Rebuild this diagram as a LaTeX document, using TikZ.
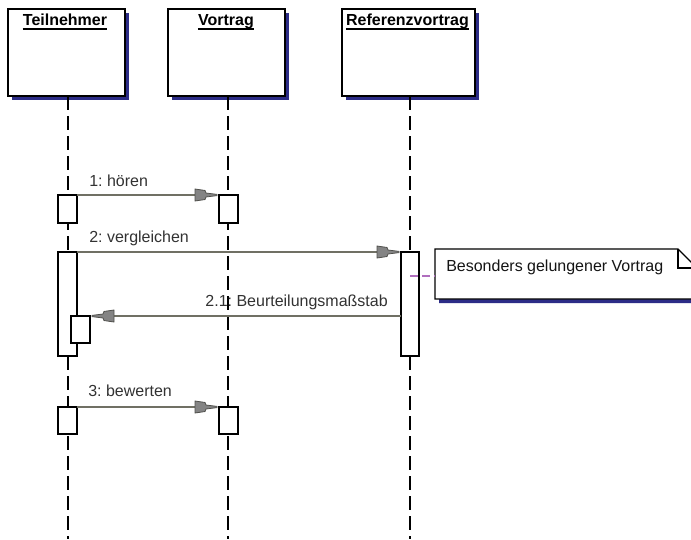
\documentclass[tikz,border=0pt]{standalone}
\usepackage{fontspec}
\setmainfont{Liberation Sans}
\usetikzlibrary{shadows}
\frenchspacing
\definecolor{msgline}{RGB}{112,112,100}
\definecolor{arrfill}{RGB}{132,132,132}
\definecolor{arrdraw}{RGB}{80,80,76}
\definecolor{labeltext}{RGB}{50,50,50}
\definecolor{shadowblue}{RGB}{45,45,135}
\definecolor{notelinkcol}{RGB}{176,110,190}
\pgfdeclarearrow{
  name=rosetip,
  setup code={
    \pgfarrowssettipend{0pt}
    \pgfarrowssetlineend{-9pt}
    \pgfarrowssetbackend{-16.5pt}
    \pgfarrowssetvisualbackend{-16.5pt}
    \pgfarrowshullpoint{0pt}{0pt}
    \pgfarrowshullpoint{-16.5pt}{4.5pt}
    \pgfarrowshullpoint{-16.5pt}{-4.5pt}
  },
  drawing code={
    \pgfsetdash{}{0pt}
    \pgfsetlinewidth{0.6pt}
    \pgfsetmiterjoin
    \pgfsetfillcolor{arrfill}
    \pgfsetstrokecolor{arrdraw}
    \pgfpathmoveto{\pgfpoint{0pt}{0.45pt}}
    \pgfpathlineto{\pgfpoint{-8.25pt}{1.5pt}}
    \pgfpathlineto{\pgfpoint{-9pt}{3.4pt}}
    \pgfpathlineto{\pgfpoint{-16.5pt}{4.5pt}}
    \pgfpathlineto{\pgfpoint{-16.5pt}{-4.5pt}}
    \pgfpathlineto{\pgfpoint{-9pt}{-3.4pt}}
    \pgfpathlineto{\pgfpoint{-8.25pt}{-1.5pt}}
    \pgfpathlineto{\pgfpoint{0pt}{-0.45pt}}
    \pgfpathclose
    \pgfusepathqfillstroke
  }
}
\begin{document}
\begin{tikzpicture}[x=0.75pt,y=-0.75pt,
  objbox/.style={draw=black, line width=1.1pt, fill=white, inner sep=0pt, outer sep=0pt,
    minimum height=65.25pt,
    general shadow={fill=shadowblue, shadow xshift=3pt, shadow yshift=-3pt}},
  actbox/.style={draw=black, line width=1pt, fill=white, inner sep=0pt, outer sep=0pt, minimum width=14.25pt},
  lifeline/.style={draw=black, line width=1.1pt, dash pattern=on 10.5pt off 4.5pt},
  msg/.style={draw=msgline, line width=0.9pt, -rosetip, shorten >=1.5pt},
  msglabel/.style={text=labeltext, anchor=base west, inner sep=0pt, font=\fontsize{12}{14}\selectfont},
  titlelabel/.style={anchor=base, inner sep=0pt, font=\bfseries\fontsize{12}{14}\selectfont},
  noteline/.style={draw=black, line width=0.9pt},
  notelinkline/.style={draw=notelinkcol, line width=1.1pt, dash pattern=on 6pt off 3pt}
]
\useasboundingbox (0,0) rectangle (691,539);
\clip (0,0) rectangle (691,539);

% object boxes
\node[objbox, minimum width=87.75pt] (T) at (66.5,52.5) {};
\node[objbox, minimum width=87.75pt] (V) at (226.5,52.5) {};
\node[objbox, minimum width=99.75pt] (R) at (408.5,52.5) {};

\node[titlelabel] (tT) at (65,26) {Teilnehmer};
\node[titlelabel] (tV) at (226,26) {Vortrag};
\node[titlelabel] (tR) at (407.5,26) {Referenzvortrag};
\foreach \t in {tT,tV,tR}
  \draw[line width=1.1pt] ([yshift=-2.4pt]\t.base west) -- ([yshift=-2.4pt]\t.base east);

% lifelines
\coordinate (LT) at (68,539);
\coordinate (LV) at (228,539);
\coordinate (LR) at (410,539);
\draw[lifeline] (T.south -| LT) -- (LT);
\draw[lifeline] (V.south -| LV) -- (LV);
\draw[lifeline] (R.south -| LR) -- (LR);

% activations
\node[actbox, minimum height=21pt] (a1) at (67.5,209) {};
\node[actbox, minimum height=21pt] (v1) at (228.5,209) {};
\node[actbox, minimum height=78pt] (a2) at (67.5,304) {};
\node[actbox, minimum height=78pt, minimum width=13.5pt] (r1) at (410,304) {};
\node[actbox, minimum height=20.25pt] (a21) at (80.5,329.5) {};
\node[actbox, minimum height=20.25pt] (a3) at (67.5,420.5) {};
\node[actbox, minimum height=20.25pt] (v3) at (228.5,420.5) {};

% messages
\draw[msg] (a1.north east) -- (v1.north west);
\draw[msg] (a2.north east) -- (r1.north west);
\draw[msg] (r1.west |- a21.north) -- (a21.north east);
\draw[msg] (a3.north east) -- (v3.north west);

\node[msglabel] (l1) at (89,186) {1: hören};
\node[msglabel] (l2) at (89,242) {2: vergleichen};
\node[msglabel, anchor=base east] (l21) at (388,306) {2.1: Beurteilungsmaßstab};
\node[msglabel] (l3) at (88,396) {3: bewerten};

% note
\coordinate (nA) at (435,249);
\coordinate (nB) at (678,249);
\coordinate (nC) at (697,268);
\coordinate (nD) at (697,299);
\coordinate (nE) at (435,299);
\fill[shadowblue] ([shift={(4,4)}]nA) -- ([shift={(4,4)}]nB) -- ([shift={(4,4)}]nC)
  -- ([shift={(4,4)}]nD) -- ([shift={(4,4)}]nE) -- cycle;
\draw[noteline, fill=white] (nA) -- (nB) -- (nC) -- (nD) -- (nE) -- cycle;
\draw[noteline] (nB) -- (nB |- nC) -- (nC);
\node[anchor=base west, inner sep=0pt, font=\fontsize{12}{14}\selectfont, text={rgb,255:red,20;green,20;blue,20}] (notetext) at (446,271) {Besonders gelungener Vortrag};

\coordinate (lk) at (410,276);
\draw[notelinkline] (lk) -- (lk -| nA);
\end{tikzpicture}
\end{document}
